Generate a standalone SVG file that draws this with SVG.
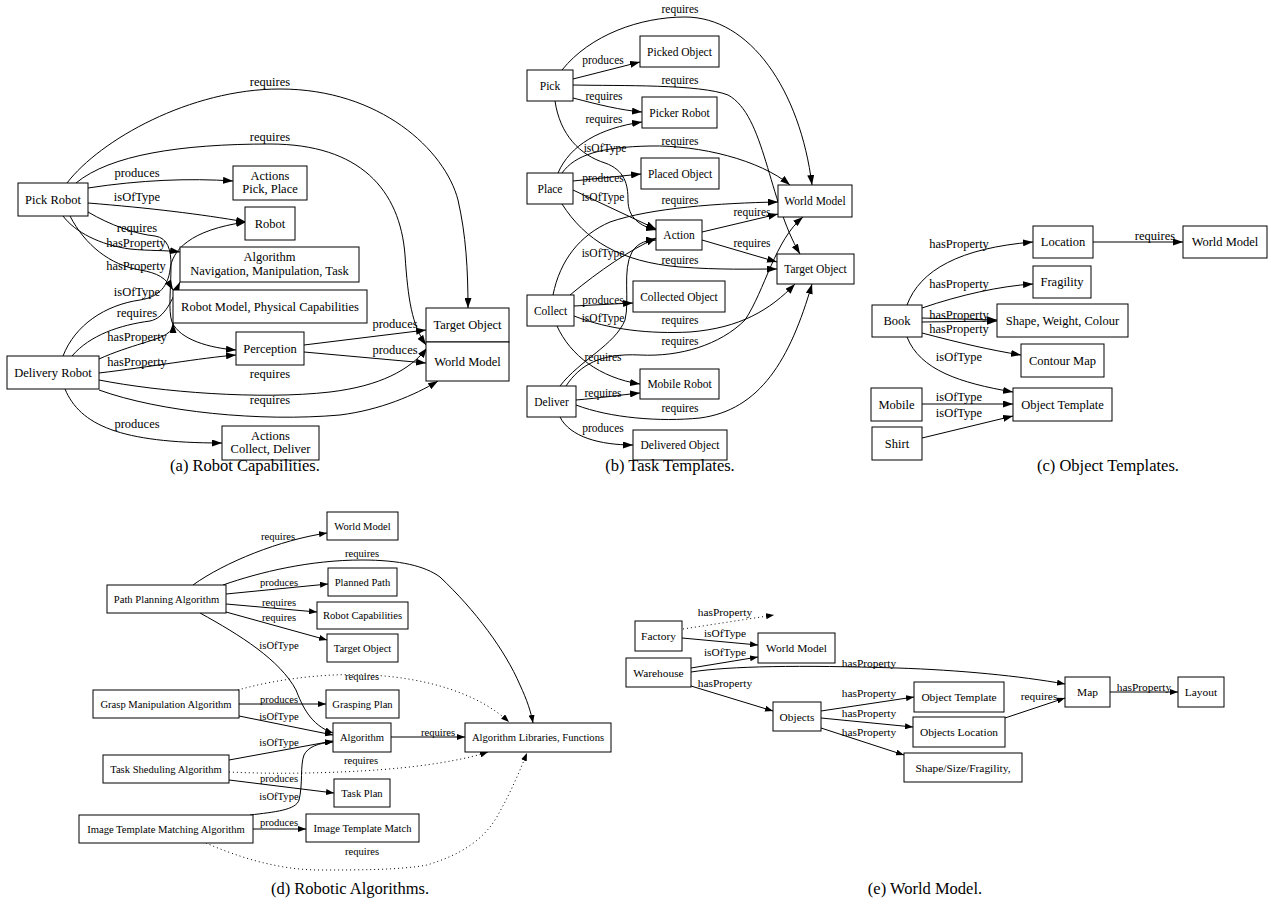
<svg xmlns="http://www.w3.org/2000/svg" width="1271" height="916" viewBox="0 0 1271 916">
<defs>
<marker id="ah" markerUnits="userSpaceOnUse" markerWidth="10" markerHeight="7" refX="10" refY="3.5" orient="auto"><path d="M0,0 L10,3.5 L0,7 z" fill="#000"/></marker>
<marker id="ahs" markerUnits="userSpaceOnUse" markerWidth="8" markerHeight="6" refX="8" refY="3" orient="auto"><path d="M0,0 L8,3 L0,6 z" fill="#000"/></marker>
<style>
text{font-family:"Liberation Serif","Times New Roman",serif;fill:#000;text-anchor:middle}
rect{fill:#fff;stroke:#000;stroke-width:1}
.edges path{fill:none;stroke:#000;stroke-width:1;marker-end:url(#ah)}
.es path{fill:none;stroke:#000;stroke-width:1;marker-end:url(#ahs)}
.es path.dot{stroke-dasharray:1,3}
.fa text{font-size:12.5px}
.fb text{font-size:11.5px}
.fc text{font-size:12.5px}
.fd text{font-size:10.6px}
.fe text{font-size:11.4px}
.cap{font-size:16.5px}
</style>
</defs>
<rect x="0" y="0" width="1271" height="916" style="fill:#fff;stroke:none"/>

<!-- Panel A -->
<g id="panel-a" class="fa">
<g id="a-edges" class="edges">
<path d="M67,183 C100,140 190,89 280,89 C380,89 445,150 458,200 C466,235 468,270 468,308"/>
<path d="M76,183 C110,155 180,144 270,144 C360,144 400,190 405,255 C408,300 412,325 426,345"/>
<path d="M88,188 C140,180 190,178 233,181"/>
<path d="M88,203 C150,208 200,214 246,222"/>
<path d="M88,212 C110,225 135,234 155,236 C168,238 171,250 171,265 C171,290 168,310 172,322 C180,340 210,348 236,350"/>
<path d="M63,216 C75,232 100,245 130,249 C150,251 165,250 180,252"/>
<path d="M70,216 C85,245 110,265 140,270 C158,273 166,278 173,290"/>
<path d="M63,356 C75,325 105,305 140,300 C160,297 168,285 170,270 C172,250 190,230 246,222"/>
<path d="M72,356 C90,335 120,325 150,321 C165,318 172,300 180,282"/>
<path d="M99,359 C130,345 160,340 168,333 C172,330 173,328 173,323"/>
<path d="M99,373 C150,367 200,358 236,355"/>
<path d="M99,380 C160,392 260,400 330,392 C380,386 410,370 427,348"/>
<path d="M99,390 C160,412 260,422 340,415 C380,410 415,395 438,381"/>
<path d="M65,389 C80,425 120,443 222,443"/>
<path d="M304,345 L426,330"/>
<path d="M304,352 L426,363"/>
</g>
<g id="a-edge-labels">
<text x="270" y="86">requires</text>
<text x="270" y="141">requires</text>
<text x="137" y="177">produces</text>
<text x="137" y="201">isOfType</text>
<text x="137" y="232">requires</text>
<text x="136" y="247">hasProperty</text>
<text x="136" y="270">hasProperty</text>
<text x="137" y="296">isOfType</text>
<text x="137" y="317">requires</text>
<text x="137" y="341">hasProperty</text>
<text x="137" y="366">hasProperty</text>
<text x="270" y="378">requires</text>
<text x="270" y="404">requires</text>
<text x="137" y="428">produces</text>
<text x="395" y="328">produces</text>
<text x="395" y="354">produces</text>
</g>
<g id="a-pick-robot"><rect x="18" y="183" width="70" height="33"/><text x="53" y="204">Pick Robot</text></g>
<g id="a-actions-pick-place"><rect x="233" y="166" width="74" height="34"/><text x="270" y="180">Actions</text><text x="270" y="193">Pick, Place</text></g>
<g id="a-robot"><rect x="245" y="207" width="50" height="33"/><text x="270" y="228">Robot</text></g>
<g id="a-algorithm"><rect x="180" y="247" width="179" height="35"/><text x="269.5" y="261">Algorithm</text><text x="269.5" y="275">Navigation, Manipulation, Task</text></g>
<g id="a-robot-model"><rect x="173" y="290" width="194" height="33"/><text x="270" y="311">Robot Model, Physical Capabilities</text></g>
<g id="a-perception"><rect x="236" y="332" width="68" height="33"/><text x="270" y="353">Perception</text></g>
<g id="a-target-object"><rect x="426" y="308" width="83" height="34"/><text x="467.5" y="329">Target Object</text></g>
<g id="a-world-model"><rect x="426" y="342" width="83" height="39"/><text x="467.5" y="366">World Model</text></g>
<g id="a-delivery-robot"><rect x="7" y="356" width="92" height="33"/><text x="53" y="377">Delivery Robot</text></g>
<g id="a-actions-collect-deliver"><rect x="222" y="426" width="97" height="34"/><text x="270.5" y="440">Actions</text><text x="270.5" y="453">Collect, Deliver</text></g>
</g>

<!-- Panel B -->
<g id="panel-b" class="fb">
<g id="b-edges" class="edges">
<path d="M562,70 C590,35 640,17 685,17 C750,17 800,90 812,185"/>
<path d="M573,79 L640,62"/>
<path d="M573,85 C620,86 700,84 728,95 C765,115 768,200 800,254"/>
<path d="M573,98 C600,105 620,110 642,112"/>
<path d="M555,101 C560,135 580,155 605,163 C625,170 628,185 628,200 C628,218 640,226 656,230"/>
<path d="M558,173 C570,145 600,128 642,122"/>
<path d="M562,173 C575,155 600,147 650,146 C700,145 760,160 790,185"/>
<path d="M573,181 L641,174"/>
<path d="M573,190 L656,229"/>
<path d="M562,204 C585,240 620,262 680,267 C720,270 750,269 777,269"/>
<path d="M702,232 L778,214"/>
<path d="M702,240 L777,262"/>
<path d="M570,295 C600,270 630,250 656,238"/>
<path d="M553,295 C560,260 580,235 610,222 C650,208 720,203 778,202"/>
<path d="M574,306 L633,303"/>
<path d="M574,316 C610,330 650,334 690,332 C740,328 770,310 795,284"/>
<path d="M557,326 C570,355 600,378 640,384"/>
<path d="M560,386 C580,360 615,345 625,320 C630,300 622,270 632,252 C638,242 648,240 656,240"/>
<path d="M566,386 C580,365 600,353 640,355 C680,357 720,345 745,320 C765,290 775,240 803,217"/>
<path d="M576,400 C600,398 620,395 640,393"/>
<path d="M576,405 C610,418 660,422 700,418 C760,410 790,360 812,284"/>
<path d="M560,417 C570,437 600,445 633,445"/>
</g>
<g id="b-edge-labels">
<text x="680" y="13">requires</text>
<text x="603" y="64">produces</text>
<text x="680" y="84">requires</text>
<text x="604" y="100">requires</text>
<text x="604" y="123">requires</text>
<text x="680" y="145">requires</text>
<text x="605" y="152">isOfType</text>
<text x="603" y="182">produces</text>
<text x="603" y="201">isOfType</text>
<text x="680" y="204">requires</text>
<text x="752" y="216">requires</text>
<text x="752" y="247">requires</text>
<text x="603" y="257">isOfType</text>
<text x="680" y="264">requires</text>
<text x="603" y="304">produces</text>
<text x="603" y="322">isOfType</text>
<text x="680" y="324">requires</text>
<text x="680" y="345">requires</text>
<text x="603" y="361">requires</text>
<text x="603" y="397">requires</text>
<text x="680" y="412">requires</text>
<text x="603" y="432">produces</text>
</g>
<g id="b-pick"><rect x="527" y="70" width="46" height="31"/><text x="550" y="89.5">Pick</text></g>
<g id="b-picked-object"><rect x="640" y="36" width="79" height="31"/><text x="679.5" y="55.5">Picked Object</text></g>
<g id="b-picker-robot"><rect x="642" y="97" width="75" height="31"/><text x="679.5" y="116.5">Picker Robot</text></g>
<g id="b-place"><rect x="527" y="173" width="46" height="31"/><text x="550" y="192.5">Place</text></g>
<g id="b-placed-object"><rect x="641" y="158" width="78" height="31"/><text x="680" y="177.5">Placed Object</text></g>
<g id="b-world-model"><rect x="778" y="185" width="74" height="32"/><text x="815" y="205">World Model</text></g>
<g id="b-action"><rect x="656" y="220" width="46" height="30"/><text x="679" y="239">Action</text></g>
<g id="b-target-object"><rect x="777" y="254" width="77" height="30"/><text x="815.5" y="273">Target Object</text></g>
<g id="b-collected-object"><rect x="633" y="281" width="92" height="31"/><text x="679" y="300.5">Collected Object</text></g>
<g id="b-collect"><rect x="527" y="295" width="47" height="31"/><text x="550.5" y="314.5">Collect</text></g>
<g id="b-mobile-robot"><rect x="640" y="369" width="79" height="30"/><text x="679.5" y="388">Mobile Robot</text></g>
<g id="b-deliver"><rect x="527" y="386" width="49" height="31"/><text x="551.5" y="405.5">Deliver</text></g>
<g id="b-delivered-object"><rect x="633" y="430" width="94" height="30"/><text x="680" y="449">Delivered Object</text></g>
</g>

<!-- Panel C -->
<g id="panel-c" class="fc">
<g id="c-edges" class="edges">
<path d="M907,305 C920,270 960,248 1033,242"/>
<path d="M922,308 C960,295 1000,286 1033,284"/>
<path d="M922,318 L997,320"/>
<path d="M922,322 L997,321"/>
<path d="M922,333 C960,343 990,350 1021,355"/>
<path d="M907,337 C920,370 960,383 1013,392"/>
<path d="M1093,242 L1183,242"/>
<path d="M922,404 L1013,404"/>
<path d="M922,438 L1013,416"/>
</g>
<g id="c-edge-labels">
<text x="959" y="248">hasProperty</text>
<text x="959" y="288">hasProperty</text>
<text x="959" y="319">hasProperty</text>
<text x="959" y="333">hasProperty</text>
<text x="959" y="361">isOfType</text>
<text x="1155" y="240">requires</text>
<text x="959" y="401">isOfType</text>
<text x="959" y="417">isOfType</text>
</g>
<g id="c-location"><rect x="1033" y="226" width="60" height="32"/><text x="1063" y="246">Location</text></g>
<g id="c-world-model"><rect x="1183" y="226" width="84" height="32"/><text x="1225" y="246">World Model</text></g>
<g id="c-fragility"><rect x="1033" y="266" width="58" height="32"/><text x="1062" y="286">Fragility</text></g>
<g id="c-shape"><rect x="997" y="304" width="131" height="33"/><text x="1062.5" y="324.5">Shape, Weight, Colour</text></g>
<g id="c-book"><rect x="872" y="305" width="50" height="32"/><text x="897" y="325">Book</text></g>
<g id="c-contour-map"><rect x="1021" y="344" width="83" height="33"/><text x="1062.5" y="364.5">Contour Map</text></g>
<g id="c-object-template"><rect x="1013" y="388" width="99" height="33"/><text x="1062.5" y="408.5">Object Template</text></g>
<g id="c-mobile"><rect x="871" y="388" width="51" height="33"/><text x="896.5" y="408.5">Mobile</text></g>
<g id="c-shirt"><rect x="872" y="427" width="50" height="33"/><text x="897" y="447.5">Shirt</text></g>
</g>

<!-- Panel D -->
<g id="panel-d" class="fd">
<g id="d-edges" class="es">
<path d="M193,585 C225,562 280,540 327,533"/>
<path d="M223,585 C260,572 310,560 362,560 C400,560 425,566 440,577 C475,610 505,650 520,685 C527,700 531,712 533,723"/>
<path d="M226,594 L328,584"/>
<path d="M226,604 L317,612"/>
<path d="M226,612 L327,640"/>
<path d="M200,613 C240,635 280,660 296,690 C302,705 310,725 333,733"/>
<path class="dot" d="M238,690 C280,678 330,673 370,675 C430,678 480,695 509,722"/>
<path d="M239,704 L326,704"/>
<path d="M239,716 L333,735"/>
<path d="M391,737 L465,737"/>
<path d="M229,760 L333,741"/>
<path class="dot" d="M229,772 C290,775 360,772 400,768 C440,764 470,758 488,752"/>
<path d="M229,780 L334,793"/>
<path d="M250,815 C275,812 296,810 299,800 C303,785 300,765 304,755 C308,747 318,743 333,742"/>
<path d="M253,829 L306,829"/>
<path class="dot" d="M206,843 C240,858 280,870 320,870 C360,870 400,870 427,865 C460,855 485,840 499,813 C512,790 520,770 527,753"/>
</g>
<g id="d-edge-labels">
<text x="278" y="540">requires</text>
<text x="362" y="557">requires</text>
<text x="279" y="586">produces</text>
<text x="279" y="606">requires</text>
<text x="279" y="621">requires</text>
<text x="279" y="649">isOfType</text>
<text x="362" y="680">requires</text>
<text x="279" y="703">produces</text>
<text x="279" y="720">isOfType</text>
<text x="438" y="736">requires</text>
<text x="279" y="746">isOfType</text>
<text x="361" y="764">requires</text>
<text x="279" y="782">produces</text>
<text x="279" y="800">isOfType</text>
<text x="279" y="826">produces</text>
<text x="362" y="855">requires</text>
</g>
<g id="d-world-model"><rect x="327" y="512" width="71" height="28"/><text x="362.5" y="529.5">World Model</text></g>
<g id="d-path-planning"><rect x="107" y="585" width="119" height="28"/><text x="166.5" y="602.5">Path Planning Algorithm</text></g>
<g id="d-planned-path"><rect x="328" y="568" width="69" height="28"/><text x="362.5" y="585.5">Planned Path</text></g>
<g id="d-robot-capabilities"><rect x="317" y="602" width="91" height="27"/><text x="362.5" y="619">Robot Capabilities</text></g>
<g id="d-target-object"><rect x="327" y="634" width="71" height="28"/><text x="362.5" y="651.5">Target Object</text></g>
<g id="d-grasp"><rect x="93" y="690" width="146" height="28"/><text x="166" y="707.5">Grasp Manipulation Algorithm</text></g>
<g id="d-grasping-plan"><rect x="326" y="690" width="73" height="28"/><text x="362.5" y="707.5">Grasping Plan</text></g>
<g id="d-algorithm"><rect x="333" y="723" width="58" height="29"/><text x="362" y="741">Algorithm</text></g>
<g id="d-libraries"><rect x="465" y="723" width="146" height="29"/><text x="538" y="741">Algorithm Libraries, Functions</text></g>
<g id="d-task-sheduling"><rect x="103" y="755" width="126" height="28"/><text x="166" y="772.5">Task Sheduling Algorithm</text></g>
<g id="d-task-plan"><rect x="334" y="779" width="56" height="28"/><text x="362" y="796.5">Task Plan</text></g>
<g id="d-image-matching"><rect x="79" y="815" width="174" height="28"/><text x="166" y="832.5">Image Template Matching Algorithm</text></g>
<g id="d-image-match"><rect x="306" y="814" width="113" height="28"/><text x="362.5" y="831.5">Image Template Match</text></g>
</g>

<!-- Panel E -->
<g id="panel-e" class="fe">
<g id="e-edges" class="es">
<path class="dot" d="M683,629 L774,615"/>
<path d="M682,638 L758,645"/>
<path d="M691,668 L758,657"/>
<path d="M691,672 C730,666 800,665 897,668 C960,670 1020,676 1065,684"/>
<path d="M691,686 L773,711"/>
<path d="M821,711 L914,697"/>
<path d="M821,718 L913,727"/>
<path d="M821,728 L904,755"/>
<path d="M1005,718 L1065,698"/>
<path d="M1110,692 L1178,692"/>
</g>
<g id="e-edge-labels">
<text x="725" y="616">hasProperty</text>
<text x="725" y="637">isOfType</text>
<text x="725" y="656">isOfType</text>
<text x="869" y="667">hasProperty</text>
<text x="725" y="687">hasProperty</text>
<text x="869" y="697">hasProperty</text>
<text x="869" y="717">hasProperty</text>
<text x="869" y="736">hasProperty</text>
<text x="1039" y="700">requires</text>
<text x="1144" y="691">hasProperty</text>
</g>
<g id="e-factory"><rect x="635" y="621" width="47" height="30"/><text x="658.5" y="640">Factory</text></g>
<g id="e-world-model"><rect x="758" y="633" width="77" height="30"/><text x="796.5" y="652">World Model</text></g>
<g id="e-warehouse"><rect x="626" y="658" width="65" height="29"/><text x="658.5" y="676.5">Warehouse</text></g>
<g id="e-map"><rect x="1065" y="677" width="45" height="30"/><text x="1087.5" y="696">Map</text></g>
<g id="e-layout"><rect x="1178" y="677" width="46" height="30"/><text x="1201" y="696">Layout</text></g>
<g id="e-objects"><rect x="773" y="702" width="48" height="29"/><text x="797" y="720.5">Objects</text></g>
<g id="e-object-template"><rect x="914" y="682" width="90" height="30"/><text x="959" y="701">Object Template</text></g>
<g id="e-objects-location"><rect x="913" y="717" width="92" height="30"/><text x="959" y="736">Objects Location</text></g>
<g id="e-shape-size"><rect x="904" y="753" width="118" height="29"/><text x="963" y="771.5">Shape/Size/Fragility,</text></g>
</g>

<!-- Captions -->
<g id="captions">
<text class="cap" x="245" y="471">(a) Robot Capabilities.</text>
<text class="cap" x="670" y="471">(b) Task Templates.</text>
<text class="cap" x="1108" y="471">(c) Object Templates.</text>
<text class="cap" x="350" y="894">(d) Robotic Algorithms.</text>
<text class="cap" x="925" y="894">(e) World Model.</text>
</g>
</svg>
